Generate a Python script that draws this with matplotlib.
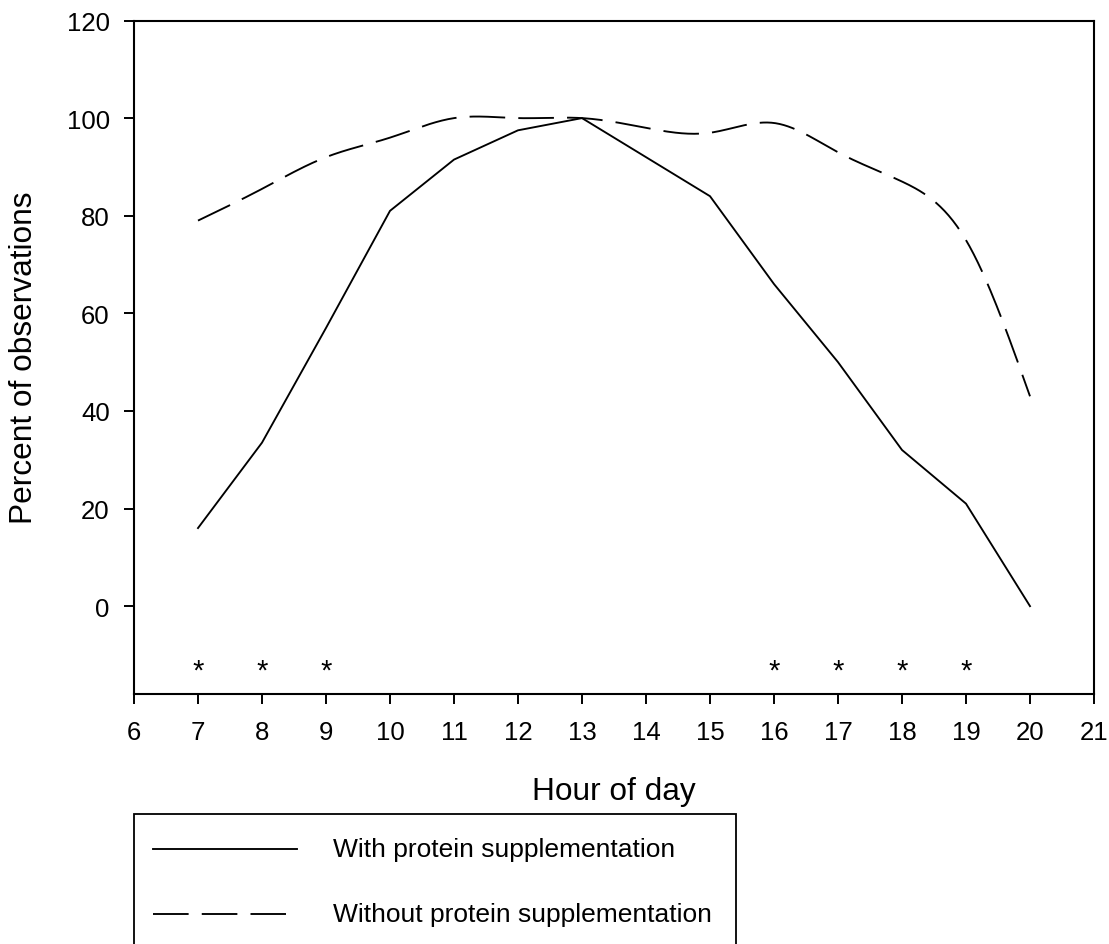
import numpy as np
import matplotlib
matplotlib.use("Agg")
import matplotlib.pyplot as plt
from matplotlib.lines import Line2D
from matplotlib.patches import Rectangle

plt.rcParams['font.family'] = ['Liberation Sans', 'DejaVu Sans']

hours = [7, 8, 9, 10, 11, 12, 13, 14, 15, 16, 17, 18, 19, 20]
with_protein = [16, 33.5, 57, 81, 91.5, 97.5, 100, 92, 84, 66, 50, 32, 21, 0]
without_protein = [79, 85.5, 92, 96, 100, 100, 100, 98, 97, 99, 93, 87, 75, 43]
signif_hours = [7, 8, 9, 16, 17, 18, 19]
xticks = list(range(6, 22))
yticks = [0, 20, 40, 60, 80, 100, 120]
legend_labels = ["With protein supplementation", "Without protein supplementation"]


def natural_spline(x, y, n=400):
    x = np.asarray(x, float)
    y = np.asarray(y, float)
    k = len(x)
    h = np.diff(x)
    A = np.zeros((k, k))
    b = np.zeros(k)
    A[0, 0] = 1
    A[-1, -1] = 1
    for i in range(1, k - 1):
        A[i, i - 1] = h[i - 1]
        A[i, i] = 2 * (h[i - 1] + h[i])
        A[i, i + 1] = h[i]
        b[i] = 3 * ((y[i + 1] - y[i]) / h[i] - (y[i] - y[i - 1]) / h[i - 1])
    c = np.linalg.solve(A, b)
    xs = np.linspace(x[0], x[-1], n)
    ys = np.empty_like(xs)
    for j, xv in enumerate(xs):
        i = min(np.searchsorted(x, xv, side='right') - 1, k - 2)
        dx = xv - x[i]
        bi = (y[i + 1] - y[i]) / h[i] - h[i] * (2 * c[i] + c[i + 1]) / 3
        di = (c[i + 1] - c[i]) / (3 * h[i])
        ys[j] = y[i] + bi * dx + c[i] * dx ** 2 + di * dx ** 3
    return xs, ys


W, H = 1109, 945
fig = plt.figure(figsize=(W / 100, H / 100), dpi=100)
ax = fig.add_axes([134 / W, 1 - 695 / H, 960 / W, (695 - 21.5) / H])

lw = 1.35
dash = (19, 7)
ax.plot(hours, with_protein, color='black', lw=lw, solid_joinstyle='miter')
xs, ys = natural_spline(hours, without_protein)
ax.plot(xs, ys, color='black', lw=lw, dashes=dash)

for h in signif_hours:
    ax.text(h, -13.3, '*', ha='center', va='center', fontsize=21, color='black')

ax.set_xlim(6, 21)
ax.set_ylim(-18, 120)
ax.set_xticks(xticks)
ax.set_yticks(yticks)
ax.tick_params(direction='out', length=7, width=1.4, labelsize=18.5, colors='black')
ax.tick_params(axis='x', pad=12)
ax.tick_params(axis='y', pad=10.5)
for s in ax.spines.values():
    s.set_linewidth(1.5)

ax.set_xlabel("Hour of day", fontsize=22.8, labelpad=23)
ax.set_ylabel("Percent of observations", fontsize=22.8, labelpad=19.5)

# legend box (extends past the bottom edge as in the reference)
fig.add_artist(Rectangle((134 / W, -20 / H), (736 - 134) / W, (945 + 20 - 815) / H,
                         transform=fig.transFigure, fill=False, lw=1.3,
                         edgecolor='black', clip_on=False))
fig.add_artist(Line2D([153 / W, 297 / W], [1 - 850 / H, 1 - 850 / H],
                      transform=fig.transFigure, color='black', lw=lw))
fig.add_artist(Line2D([153 / W, 286 / W], [1 - 915 / H, 1 - 915 / H],
                      transform=fig.transFigure, color='black', lw=lw, dashes=dash))
fig.text(333 / W, 1 - 850 / H, legend_labels[0], fontsize=19, va='center', ha='left')
fig.text(333 / W, 1 - 915 / H, legend_labels[1], fontsize=19, va='center', ha='left')

fig.savefig("out.png", dpi=100)
